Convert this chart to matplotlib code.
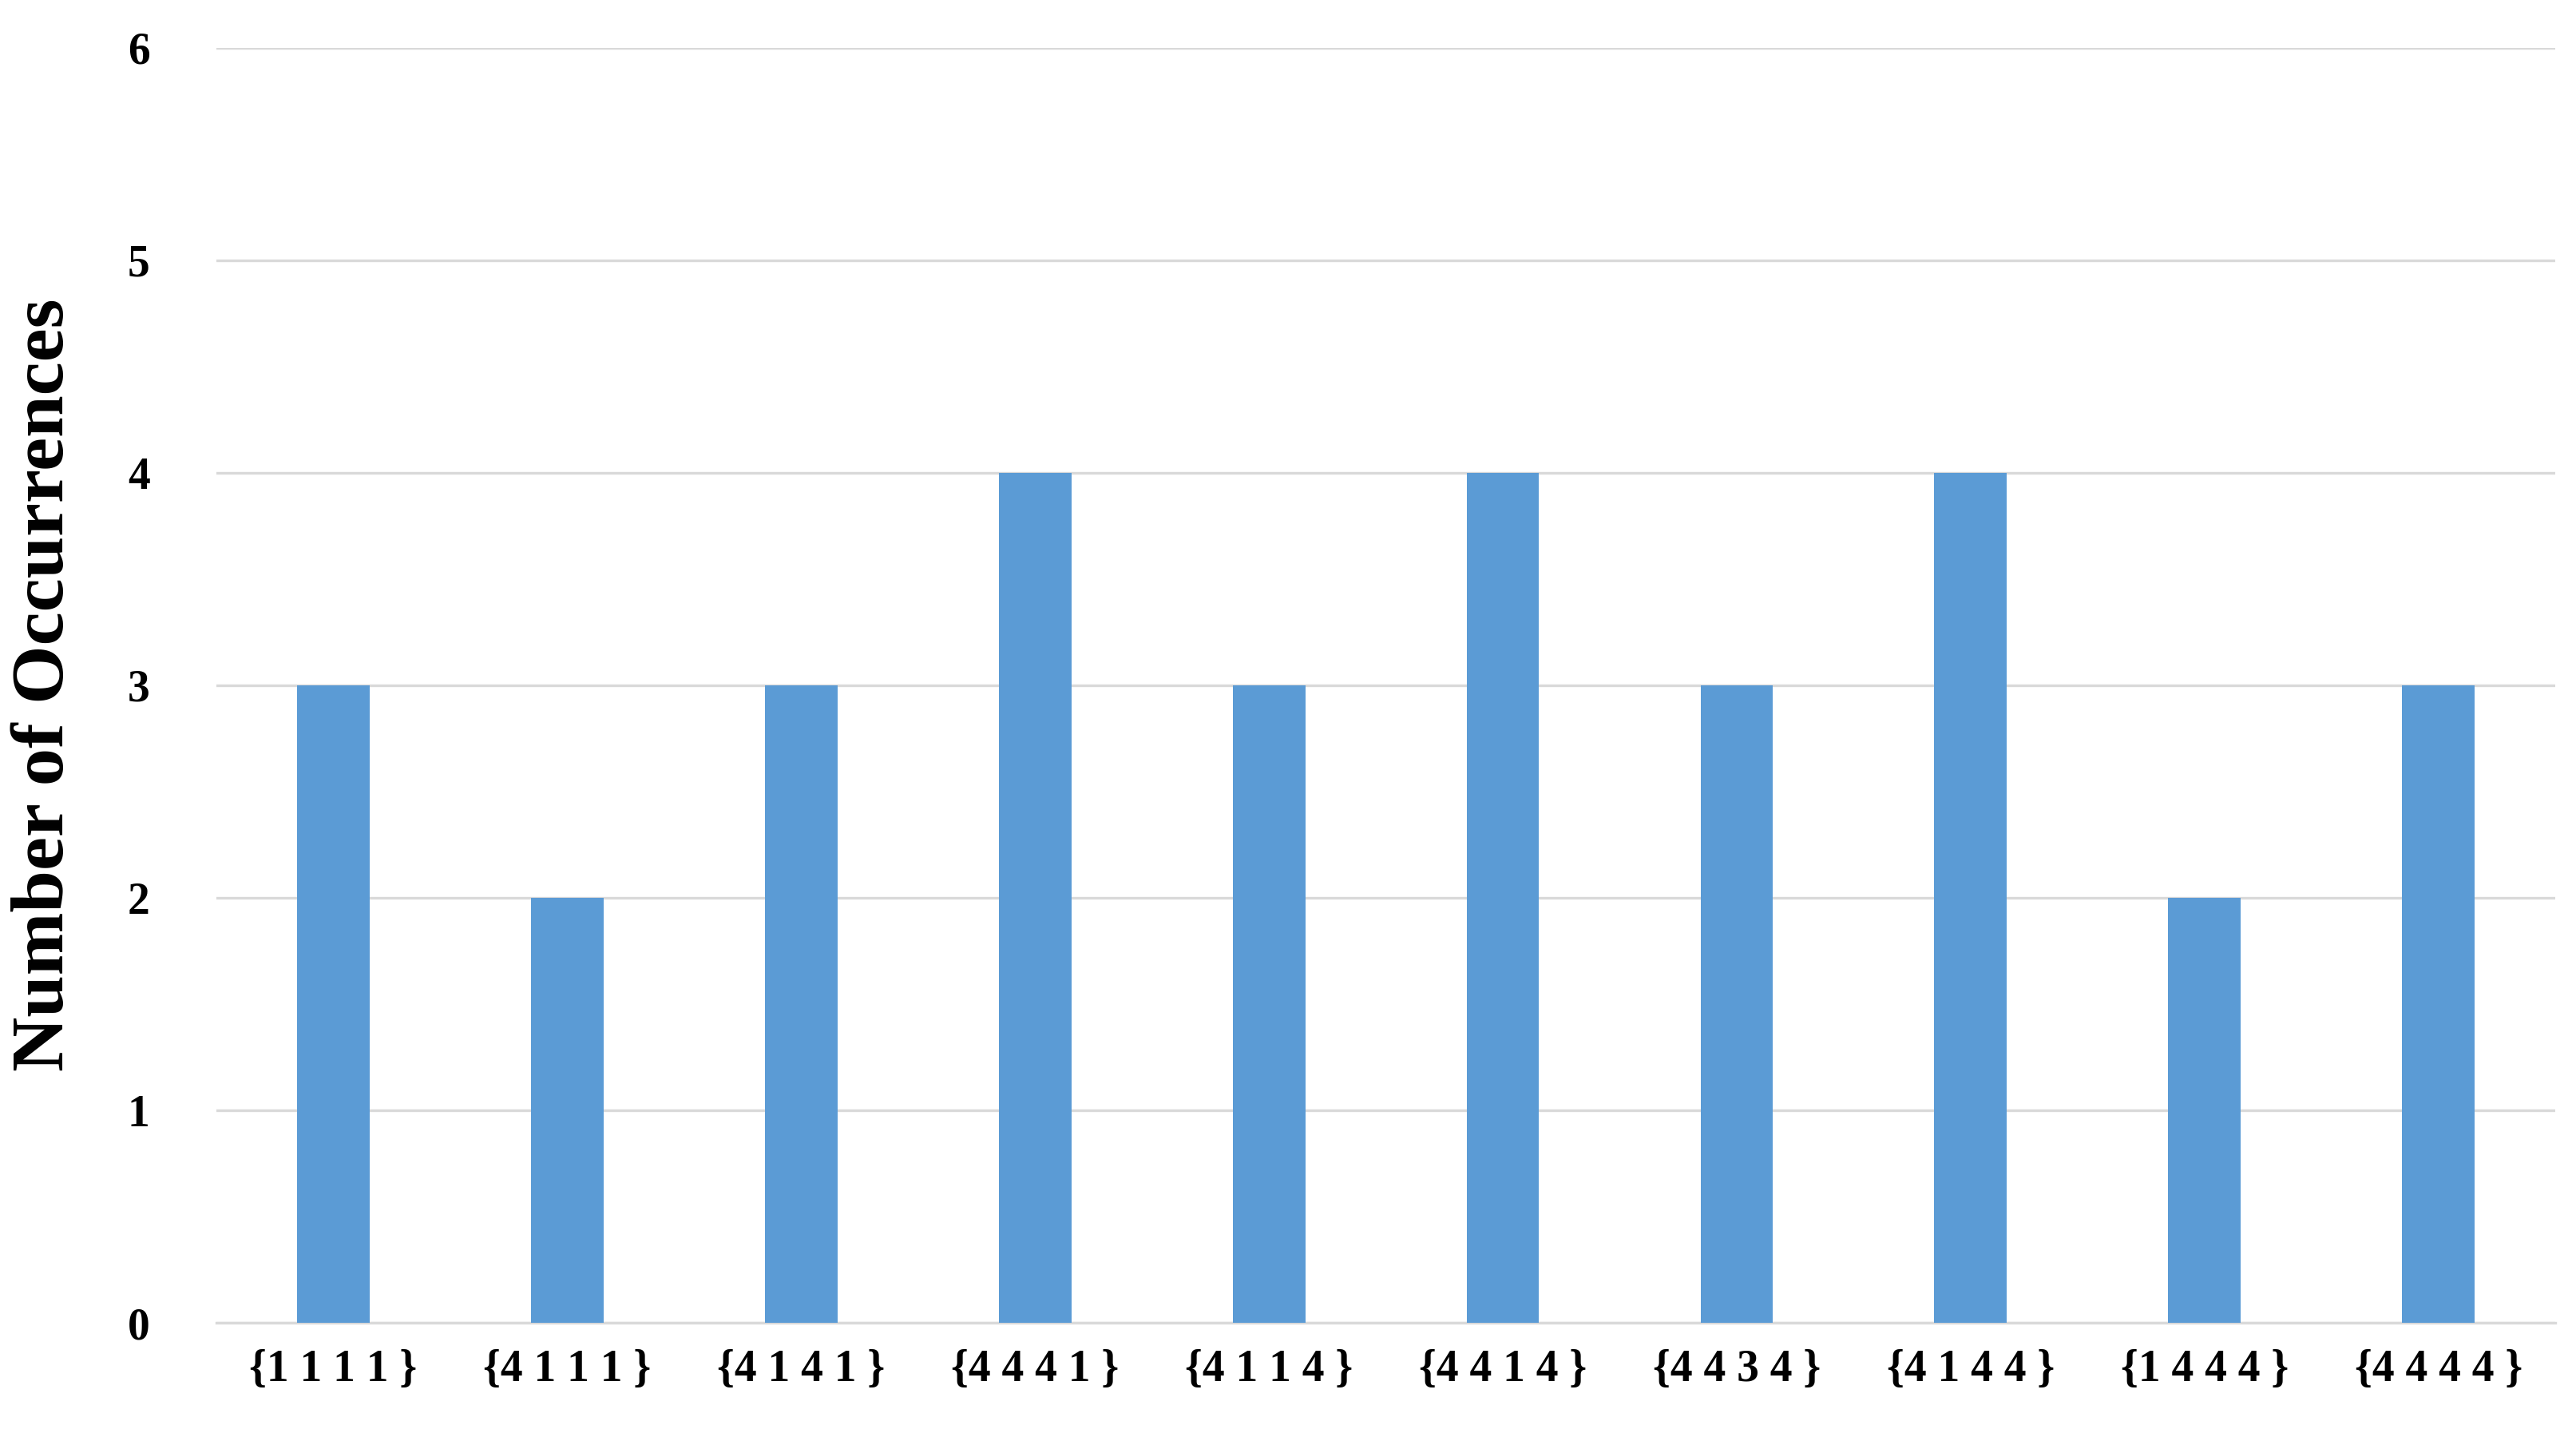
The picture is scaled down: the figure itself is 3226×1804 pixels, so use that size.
import matplotlib
matplotlib.use("Agg")
import matplotlib.pyplot as plt

categories = ["{1 1 1 1 }", "{4 1 1 1 }", "{4 1 4 1 }", "{4 4 4 1 }", "{4 1 1 4 }",
              "{4 4 1 4 }", "{4 4 3 4 }", "{4 1 4 4 }", "{1 4 4 4 }", "{4 4 4 4 }"]
values = [3, 2, 3, 4, 3, 4, 3, 4, 2, 3]
yticks = [0, 1, 2, 3, 4, 5, 6]

plt.rcParams['font.family'] = ['Liberation Serif', 'DejaVu Serif']
fig = plt.figure(figsize=(16.13, 9.02), dpi=200)
ax = fig.add_axes([0.084, 0.082, 0.908, 0.885])
x = list(range(len(categories)))
ax.bar(x, values, width=0.31, color='#5B9BD5', zorder=3)
ax.set_xlim(-0.5, len(categories) - 0.5)
ax.set_ylim(0, 6)
ax.set_yticks(yticks)
ax.set_xticks(x)
ax.set_xticklabels(categories, fontsize=20, fontweight='bold')
ax.set_yticklabels([str(t) for t in yticks], fontsize=20, fontweight='bold')
ax.grid(axis='y', color='#D9D9D9', linewidth=1.2, zorder=0)
for s in ['top', 'right', 'left']:
    ax.spines[s].set_visible(False)
ax.spines['bottom'].set_color('#D9D9D9')
ax.spines['bottom'].set_linewidth(1.2)
ax.tick_params(axis='both', length=0, pad=12)
ax.tick_params(axis='y', pad=30)
ax.set_ylabel("Number of Occurrences", fontsize=34, fontweight='bold', labelpad=22)
fig.savefig("out.png", dpi=200)
